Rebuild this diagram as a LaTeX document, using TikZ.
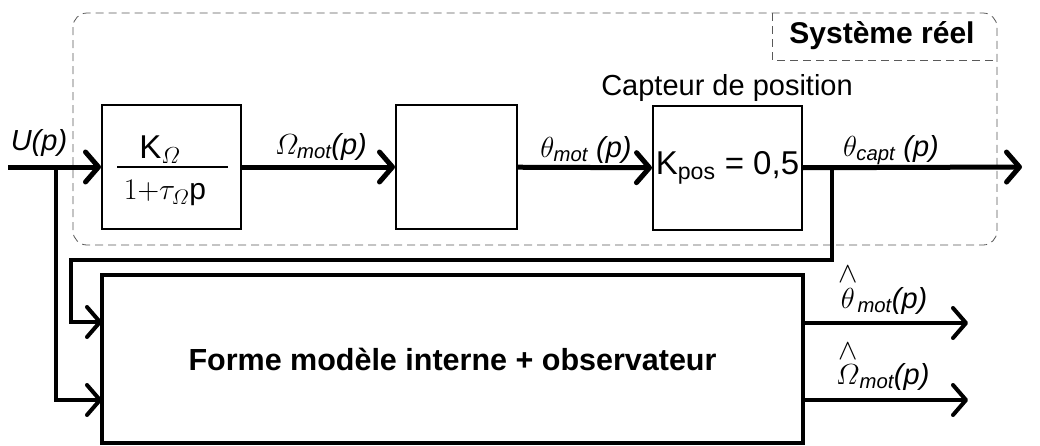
\RequirePackage{fix-cm}
\documentclass[tikz,border=0pt]{standalone}
\usepackage{amsmath}
\usepackage{fontspec}
\setmainfont{Liberation Sans}
\usetikzlibrary{arrows.meta}
\tikzstyle{bloc}=[draw,line width=2pt,inner sep=0pt]
\tikzstyle{fleche}=[line width=5pt,-{Straight Barb[length=13pt,width=30pt,round]}]
\tikzstyle{lien}=[line width=4pt,-{Straight Barb[length=13pt,width=30pt,round]}]
\tikzstyle{cadre}=[gray!70!black,line width=0.8pt,dash pattern=on 8pt off 5pt]
\tikzstyle{lbl}=[font=\fontsize{29}{32}\selectfont,inner sep=0pt]
\newcommand{\chapeau}[1]{\overset{\textstyle\wedge\vspace{2pt}}{#1}}

\begin{document}
\begin{tikzpicture}[x=1pt,y=-1pt]
		\useasboundingbox (0,0) rectangle (1040,445);

		\draw[cadre,rounded corners=14pt] (73,13) rectangle (997,245);
		\draw[cadre] (772,13) -- (772,60) -- (997,60);
		\node[lbl,font=\fontsize{30}{32}\selectfont\bfseries] (sysreel) at (882,36) {Système réel};

		\node[bloc,minimum width=139pt,minimum height=124pt] (KO) at (171.5,167) {};
		\node[bloc,minimum width=121pt,minimum height=124pt] (B2) at (456.5,167) {};
		\node[bloc,minimum width=149pt,minimum height=124pt] (Kpos) at (727.5,168) {\fontsize{33}{36}\selectfont K$_{\text{pos}}$ = 0,5};
		\node[bloc,line width=4pt,minimum width=701pt,minimum height=168pt] (M) at (452.5,359)
			{\fontsize{30.5}{33}\selectfont\bfseries Forme modèle interne + observateur};

		\node[lbl,font=\fontsize{33}{36}\selectfont] (num) at (160,150) {K$_{\varOmega}$};
		\node[lbl,font=\fontsize{30}{33}\selectfont] (den) at (165,193) {$1{+}\tau_{\varOmega}$p};
		\draw[line width=2pt] (117,167) -- (228,167);
		\node[lbl] (capteur) at (727,88) {Capteur de position};

		\coordinate (e) at (8,167);
		\coordinate (jU) at (56,167);
		\coordinate (jC) at (832,167);
		\coordinate (s) at (1022,167);
		\coordinate (in1) at (102,322);
		\coordinate (in2) at (102,400);
		\coordinate (o1) at (803,323);
		\coordinate (o2) at (803,400);

		\draw[fleche] (e) -- (KO.west);
		\draw[fleche] (KO) -- (B2);
		\draw[fleche] (B2) -- (Kpos);
		\draw[fleche] (Kpos) -- (s);
		\draw[lien] (jC) |- (71,260) |- (in1);
		\draw[lien] (jU) |- (in2);
		\draw[lien] (o1) -- (968,323);
		\draw[lien] (o2) -- (968,400);

		\node[lbl] (U) at (39,143) {\textit{U(p)}};
		\node[lbl] (Omot) at (321,147) {$\varOmega_{\textit{mot}}$\textit{(p)}};
		\node[lbl] (tmot) at (586,150) {$\theta_{\textit{mot}}$ \textit{(p)}};
		\node[lbl] (tcapt) at (891,150) {$\theta_{\textit{capt}}$ \textit{(p)}};
		\node[lbl,anchor=base west] (tmotobs) at (838,308) {$\chapeau{\theta}_{\textit{mot}}$\textit{(p)}};
		\node[lbl,anchor=base west] (Omotobs) at (836,384) {$\chapeau{\varOmega}_{\textit{mot}}$\textit{(p)}};
\end{tikzpicture}
\end{document}
